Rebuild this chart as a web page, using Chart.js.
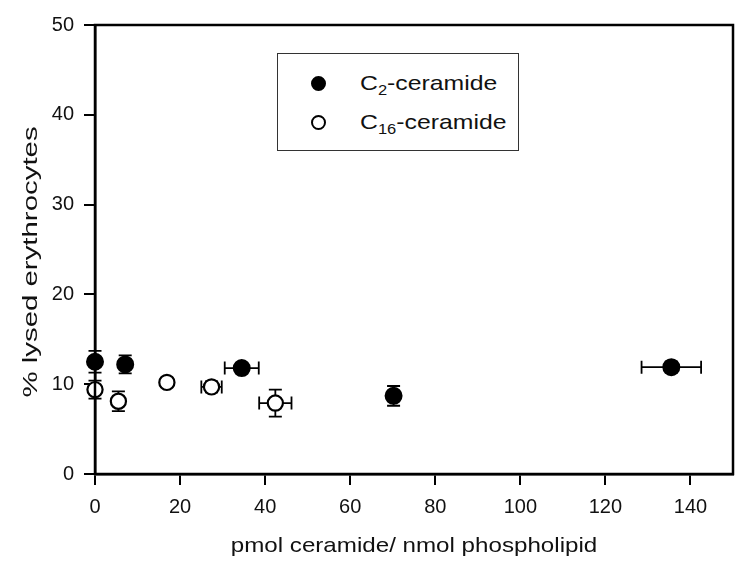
<!DOCTYPE html>
<html>
<head>
<meta charset="utf-8">
<script src="https://cdn.jsdelivr.net/npm/chart.js@4/dist/chart.umd.min.js"></script>
<style>
  html, body { margin: 0; padding: 0; background: #fff; }
  #wrap { position: relative; width: 750px; height: 571px; }
  #legend {
    position: absolute; left: 277px; top: 53px; width: 242px; height: 98px;
    border: 1.5px solid #333; box-sizing: border-box; background: #fff;
    font-family: "Liberation Sans", Arial, sans-serif; font-size: 21px; color: #111;
  }
  #legend .dot { position: absolute; width: 15px; height: 15px; border-radius: 50%; box-sizing: border-box; border: 2px solid #000; }
  #legend .txt { position: absolute; left: 82px; line-height: 24px; transform: scaleX(1.18); transform-origin: left center; white-space: nowrap; }
  #legend sub { font-size: 14px; vertical-align: -5px; line-height: 0; }
</style>
</head>
<body>
<div id="wrap">
  <canvas id="chart" width="750" height="571"></canvas>
  <div id="legend">
    <span class="dot" style="left:33px; top:22px; background:#000"></span>
    <span class="txt" style="top:17px">C<sub>2</sub>-ceramide</span>
    <span class="dot" style="left:33px; top:61px; background:#fff"></span>
    <span class="txt" style="top:56px">C<sub>16</sub>-ceramide</span>
  </div>
</div>
<script>
// C2-ceramide (filled)
const c2X    = [0, 7.1, 34.5, 70.2, 135.5];
const c2Y    = [12.5, 12.2, 11.8, 8.7, 11.9];
const c2XErr = [0, 0, 4, 0, 7];
const c2YErr = [1.2, 1.0, 0.5, 1.1, 0.6];

// C16-ceramide (open)
const c16X    = [0, 5.5, 16.9, 27.4, 42.4];
const c16Y    = [9.4, 8.1, 10.2, 9.7, 7.9];
const c16XErr = [0, 0, 0, 2.4, 3.8];
const c16YErr = [1.0, 1.1, 0.5, 0.6, 1.5];

const xTicks = [0, 20, 40, 60, 80, 100, 120, 140];
const yTicks = [0, 10, 20, 30, 40, 50];

const xTitle = 'pmol ceramide/ nmol phospholipid';
const yTitle = '% lysed erythrocytes';

const FONT = '"Liberation Sans", Arial, sans-serif';

function pts(xs, ys, xe, ye) {
  return xs.map((x, i) => ({ x, y: ys[i], xErr: xe[i], yErr: ye[i] }));
}

// error bars, drawn behind the markers
const errorBars = {
  id: 'errorBars',
  beforeDatasetsDraw(chart) {
    const { ctx, scales: { x, y } } = chart;
    const cap = 6.5;
    ctx.save();
    ctx.strokeStyle = '#000';
    ctx.lineWidth = 1.8;
    chart.data.datasets.forEach(ds => {
      ds.data.forEach(p => {
        const px = x.getPixelForValue(p.x), py = y.getPixelForValue(p.y);
        if (p.yErr) {
          const y1 = y.getPixelForValue(p.y - p.yErr), y2 = y.getPixelForValue(p.y + p.yErr);
          ctx.beginPath();
          ctx.moveTo(px, y1); ctx.lineTo(px, y2);
          ctx.moveTo(px - cap, y1); ctx.lineTo(px + cap, y1);
          ctx.moveTo(px - cap, y2); ctx.lineTo(px + cap, y2);
          ctx.stroke();
        }
        if (p.xErr) {
          const x1 = x.getPixelForValue(p.x - p.xErr), x2 = x.getPixelForValue(p.x + p.xErr);
          ctx.beginPath();
          ctx.moveTo(x1, py); ctx.lineTo(x2, py);
          ctx.moveTo(x1, py - cap); ctx.lineTo(x1, py + cap);
          ctx.moveTo(x2, py - cap); ctx.lineTo(x2, py + cap);
          ctx.stroke();
        }
      });
    });
    ctx.restore();
  }
};

// box round the plot + stretched axis titles (the source figure is scaled unevenly)
const frame = {
  id: 'frame',
  afterDraw(chart) {
    const { ctx, chartArea: a } = chart;
    ctx.save();
    ctx.strokeStyle = '#000';
    ctx.lineWidth = 2.5;
    ctx.strokeRect(a.left, a.top, a.right - a.left, a.bottom - a.top);

    ctx.fillStyle = '#111';
    ctx.font = '21px ' + FONT;
    ctx.textAlign = 'center';
    ctx.textBaseline = 'middle';

    ctx.save();
    ctx.translate((a.left + a.right) / 2, 546);
    ctx.scale(1.15, 1);
    ctx.fillText(xTitle, 0, 0);
    ctx.restore();

    ctx.save();
    ctx.translate(31, 262);
    ctx.rotate(-Math.PI / 2);
    ctx.scale(1.4, 1);
    ctx.fillText(yTitle, 0, 0);
    ctx.restore();

    ctx.restore();
  }
};

new Chart(document.getElementById('chart'), {
  type: 'scatter',
  data: {
    datasets: [{
      label: 'C2-ceramide',
      data: pts(c2X, c2Y, c2XErr, c2YErr),
      backgroundColor: '#000',
      borderColor: '#000',
      borderWidth: 2,
      pointRadius: 8,
      clip: false
    }, {
      label: 'C16-ceramide',
      data: pts(c16X, c16Y, c16XErr, c16YErr),
      backgroundColor: '#fff',
      borderColor: '#000',
      borderWidth: 2.2,
      pointRadius: 7.6,
      clip: false
    }]
  },
  options: {
    responsive: false,
    animation: false,
    layout: { padding: { top: 25, right: 17, bottom: 0, left: 0 } },
    plugins: { legend: { display: false }, tooltip: { enabled: false } },
    scales: {
      x: {
        type: 'linear', min: 0, max: 150,
        afterBuildTicks: axis => { axis.ticks = xTicks.map(v => ({ value: v })); },
        afterFit: axis => { axis.height = 97; },
        grid: { drawOnChartArea: false, drawTicks: true, tickLength: 11, color: '#000', lineWidth: 2 },
        border: { color: '#000', width: 2.5 },
        ticks: { color: '#111', font: { family: FONT, size: 20 }, padding: 10, maxRotation: 0 }
      },
      y: {
        type: 'linear', min: 0, max: 50,
        afterBuildTicks: axis => { axis.ticks = yTicks.map(v => ({ value: v })); },
        afterFit: axis => { axis.width = 95; },
        grid: { drawOnChartArea: false, drawTicks: true, tickLength: 11, color: '#000', lineWidth: 2 },
        border: { color: '#000', width: 2.5 },
        ticks: { color: '#111', font: { family: FONT, size: 20 }, padding: 10 }
      }
    }
  },
  plugins: [errorBars, frame]
});
</script>
</body>
</html>
